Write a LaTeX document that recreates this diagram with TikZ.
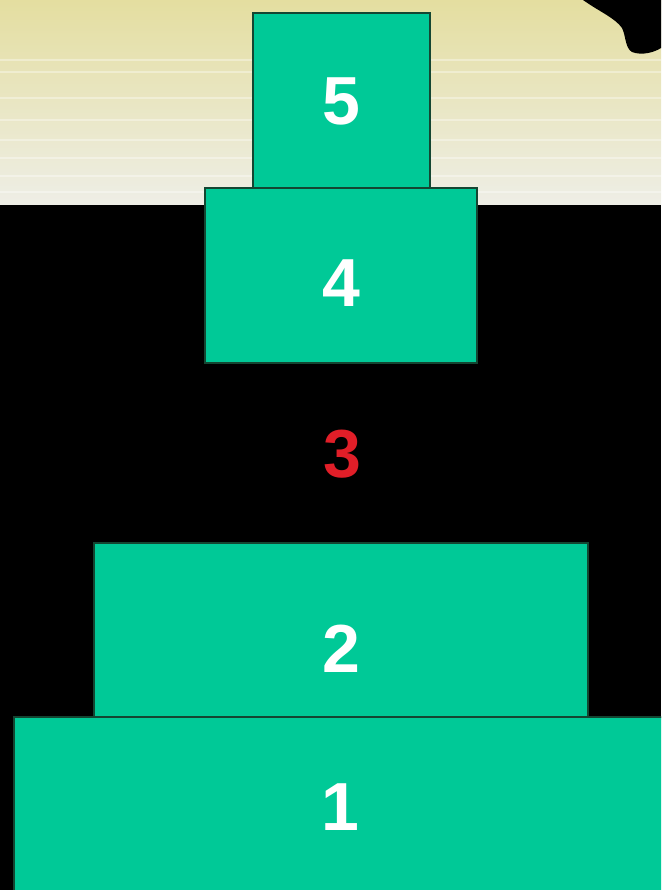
\documentclass[tikz,border=0pt]{standalone}
\usepackage{fontspec}
\setmainfont{Liberation Sans}
\usetikzlibrary{positioning,calc}
\definecolor{tiergreen}{RGB}{0,201,151}
\definecolor{tieredge}{RGB}{20,70,50}
\definecolor{creamtop}{RGB}{228,222,160}
\definecolor{creambot}{RGB}{238,238,230}
\definecolor{digitred}{RGB}{225,30,40}

\begin{document}
\begin{tikzpicture}[x=1pt,y=-1pt]
  \tikzstyle{tier}=[rectangle, draw=tieredge, line width=1.2pt, fill=tiergreen, text=white, font=\fontsize{68}{68}\selectfont\bfseries, inner sep=0pt]
  \useasboundingbox (0,0) rectangle (661,890);
  \clip (0,0) rectangle (661,890);
  % backdrop
  \fill[black] (0,205) rectangle (661,890);
  \shade[top color=creamtop, bottom color=creambot] (0,0) rectangle (661,205);
  \foreach \y in {60,72,98,120,140,158,176,192}
    \draw[white, opacity=0.35, line width=1.5pt] (0,\y) -- (661,\y);
  \fill[black] (583,0) .. controls (600,12) and (615,18) .. (622,28)
    .. controls (626,36) and (625,48) .. (632,52)
    .. controls (642,56) and (655,52) .. (661,48) -- (661,0) -- cycle;
  % tiers
  \node[tier, minimum width=177pt, minimum height=177pt] (t5) at (341.5,101.5) {5};
  \node[tier, minimum width=272pt, minimum height=175pt, text height=61pt, text depth=0pt] (t4) at (341,275.5) {4};
  \node[font=\fontsize{68}{68}\selectfont\bfseries, text=digitred] (t3) at (342,454) {3};
  \node[tier, minimum width=494pt, minimum height=174pt, text height=85pt, text depth=0pt] (t2) at (341,630) {2};
  \node[tier, minimum width=652pt, minimum height=180pt] (t1) at (340,807) {1};
\end{tikzpicture}
\end{document}
